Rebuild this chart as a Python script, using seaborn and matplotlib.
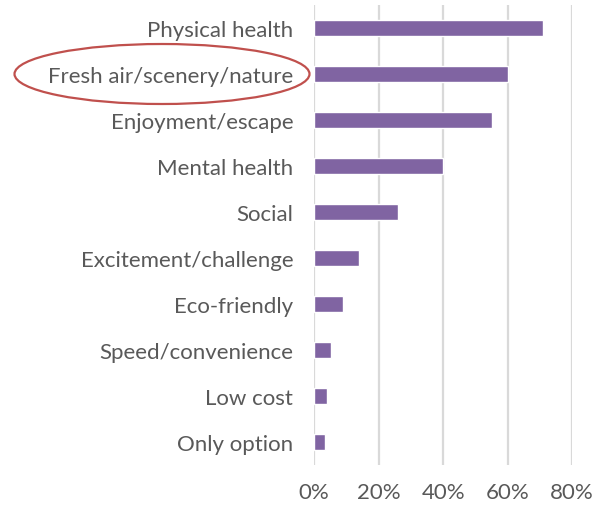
import matplotlib
matplotlib.use("Agg")
import matplotlib.pyplot as plt
from matplotlib.patches import Ellipse
from matplotlib.ticker import PercentFormatter
import pandas as pd
import seaborn as sns

# Reasons for cycling (share of respondents)
reasons = [
    "Physical health",
    "Fresh air/scenery/nature",
    "Enjoyment/escape",
    "Mental health",
    "Social",
    "Excitement/challenge",
    "Eco-friendly",
    "Speed/convenience",
    "Low cost",
    "Only option",
]
shares = [0.71, 0.60, 0.55, 0.40, 0.26, 0.14, 0.09, 0.053, 0.04, 0.034]
x_ticks = [0.0, 0.2, 0.4, 0.6, 0.8]

sns.set_style("white")
plt.rcParams['font.family'] = ['Lato', 'DejaVu Sans']

df = pd.DataFrame({"Reason": reasons, "Share": shares})

fig = plt.figure(figsize=(5.96, 5.10), dpi=100)
ax = fig.add_axes([0.527, 0.0863, 0.433, 0.902])

sns.barplot(data=df, y="Reason", x="Share", color="#8064A2", width=0.36,
            saturation=1, ax=ax, zorder=3)

ax.set_xlim(0, 0.8)
ax.set_ylim(len(reasons) - 0.5, -0.5)
ax.set_xticks(x_ticks)
ax.xaxis.set_major_formatter(PercentFormatter(1.0, decimals=0))
ax.grid(axis="x", color="#D9D9D9", linewidth=1.6, zorder=0)
ax.set_axisbelow(True)
for s in ax.spines.values():
    s.set_visible(False)
ax.set_xlabel("")
ax.set_ylabel("")
ax.tick_params(axis="y", length=0, pad=15, labelsize=16, labelcolor="#595959")
ax.tick_params(axis="x", length=0, pad=12, labelsize=16, labelcolor="#595959")

# highlight ellipse around the second category
ell = Ellipse((162 / 596, 1 - 75 / 510), 295 / 596, 60 / 510,
              transform=fig.transFigure, fill=False, edgecolor="#C0504D",
              linewidth=1.6, clip_on=False)
fig.patches.append(ell)

fig.savefig("out.png", dpi=100)
